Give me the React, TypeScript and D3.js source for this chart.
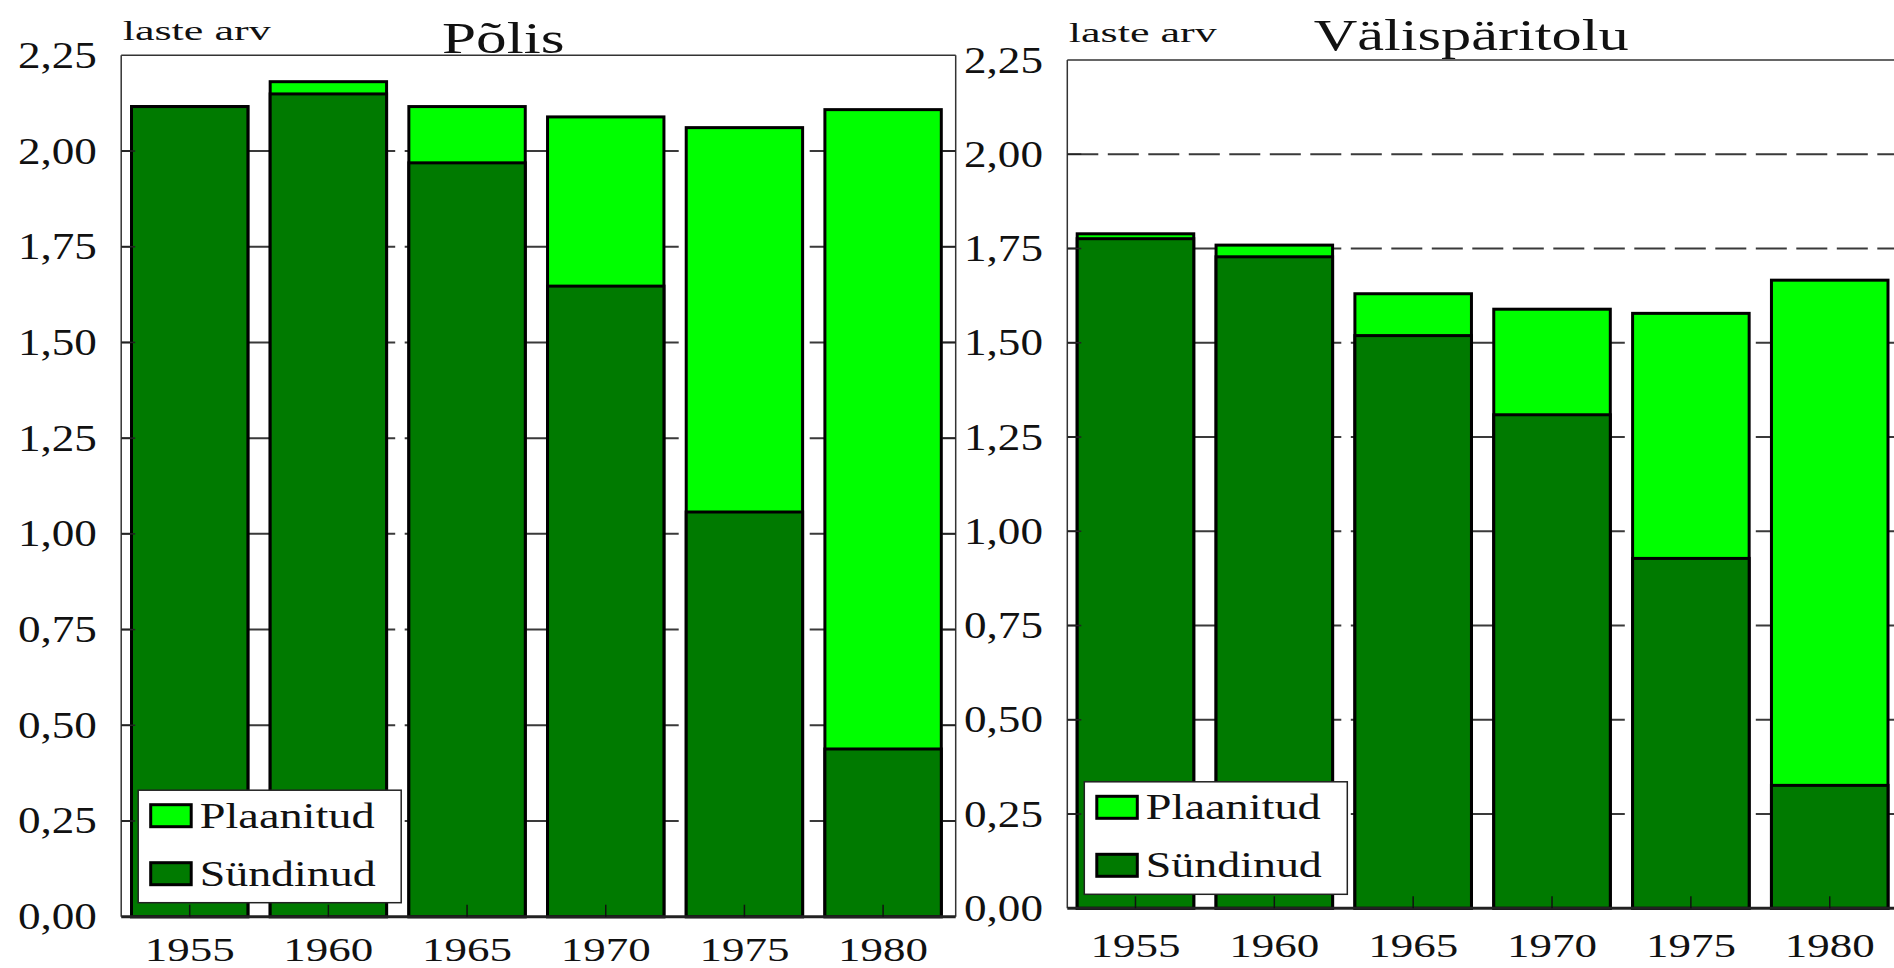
import React from 'react';
import * as d3 from 'd3';

// ---- data ----
const years = ['1955', '1960', '1965', '1970', '1975', '1980'];
const yTicks = [0, 0.25, 0.5, 0.75, 1.0, 1.25, 1.5, 1.75, 2.0, 2.25];
const polisPlanned = [2.12, 2.185, 2.12, 2.093, 2.065, 2.112];
const polisBorn = [2.12, 2.153, 1.973, 1.651, 1.061, 0.442];
const valisPlanned = [1.793, 1.763, 1.634, 1.593, 1.582, 1.67];
const valisBorn = [1.78, 1.732, 1.523, 1.313, 0.932, 0.33];
const legendLabels = ['Plaanitud', 'Sündinud'];
const yLabel = 'laste arv';

const DARK = '#007a00';
const LIGHT = '#00ff00';
const FONT = "'Times New Roman', Times, 'Liberation Serif', serif";

const fmt = (v: number) => v.toFixed(2).replace('.', ',');

type PanelCfg = {
  title: string;
  planned: number[];
  born: number[];
  left: number;
  right: number;
  top: number;
  bottom: number;
  bandL: number;
  bandR: number;
  showRightAxis: boolean;
  titleX: number;
  titleY: number;
  titleW: number;
  labY: number;
  yearY: number;
};

const panels: PanelCfg[] = [
  {
    title: 'Põlis', planned: polisPlanned, born: polisBorn,
    left: 121.2, right: 955.7, top: 55.3, bottom: 916.7, bandL: 130, bandR: 942.8,
    showRightAxis: true, titleX: 442, titleY: 53.3, titleW: 122.5, labY: 39.5, yearY: 961,
  },
  {
    title: 'Välispäritolu', planned: valisPlanned, born: valisBorn,
    left: 1067.3, right: 1898, top: 60, bottom: 908.3, bandL: 1075.7, bandR: 1889.5,
    showRightAxis: false, titleX: 1313.7, titleY: 50, titleW: 315, labY: 41.7, yearY: 956.7,
  },
];

const txt = { fontFamily: FONT } as React.CSSProperties;

function Panel({ p }: { p: PanelCfg }) {
  const x = d3.scaleBand<string>().domain(years).range([p.bandL, p.bandR]).paddingInner(0.139).paddingOuter(0);
  const y = d3.scaleLinear().domain([0, 2.25]).range([p.bottom, p.top]);
  const bw = x.bandwidth();
  const gridTicks = yTicks.filter((t) => t > 0 && t < 2.25);
  return (
    <g>
      {gridTicks.map((t) => (
        <line key={'g' + t} x1={p.left} x2={p.right} y1={y(t)} y2={y(t)} stroke="#3a3a3a" strokeWidth={2} strokeDasharray="31 9.5" />
      ))}
      {years.map((yr, i) => (
        <g key={yr}>
          <rect x={x(yr)! + 1.5} width={bw - 3} y={y(p.planned[i]) + 1.5} height={y(0) - y(p.planned[i]) - 1.5} fill={LIGHT} stroke="#000" strokeWidth={3} />
          <rect x={x(yr)! + 1.5} width={bw - 3} y={y(p.born[i]) + 1.5} height={y(0) - y(p.born[i]) - 1.5} fill={DARK} stroke="#000" strokeWidth={3} />
        </g>
      ))}
      <line x1={p.left} x2={p.left} y1={p.top} y2={p.bottom} stroke="#333" strokeWidth={1.5} />
      <line x1={p.left} x2={p.right} y1={p.top} y2={p.top} stroke="#333" strokeWidth={1.5} />
      {p.showRightAxis && <line x1={p.right} x2={p.right} y1={p.top} y2={p.bottom} stroke="#333" strokeWidth={1.5} />}
      <line x1={p.left} x2={p.right} y1={p.bottom} y2={p.bottom} stroke="#222" strokeWidth={3} />
      {gridTicks.map((t) => (
        <g key={'t' + t}>
          <line x1={p.left} x2={p.left + 14} y1={y(t)} y2={y(t)} stroke="#222" strokeWidth={1.5} />
          {p.showRightAxis && <line x1={p.right - 13} x2={p.right} y1={y(t)} y2={y(t)} stroke="#222" strokeWidth={1.5} />}
        </g>
      ))}
      {yTicks.map((t) => (
        <text key={'l' + t} x={p.left - 103.3} y={y(t) + 12.5} fontSize={37} style={txt} fill="#111" textLength={79} lengthAdjust="spacingAndGlyphs">
          {fmt(t)}
        </text>
      ))}
      {years.map((yr) => {
        const cx = x(yr)! + bw / 2;
        return (
          <g key={'x' + yr}>
            <line x1={cx} x2={cx} y1={p.bottom} y2={p.bottom - 12} stroke="#111" strokeWidth={1.5} />
            <text x={cx - 45} y={p.yearY} fontSize={33} style={txt} fill="#111" textLength={90} lengthAdjust="spacingAndGlyphs">
              {yr}
            </text>
          </g>
        );
      })}
      <text x={p.left + 1.5} y={p.labY} fontSize={28} style={txt} fill="#111" textLength={148} lengthAdjust="spacingAndGlyphs">{yLabel}</text>
      <text x={p.titleX} y={p.titleY} fontSize={45} style={txt} fill="#111" textLength={p.titleW} lengthAdjust="spacingAndGlyphs">{p.title}</text>
      <g>
        <rect x={p.left + 17} y={p.bottom - 126.5} width={263} height={112.5} fill="#fff" stroke="#222" strokeWidth={1.5} />
        {legendLabels.map((lab, i) => {
          const sy = p.bottom - 112 + i * 58;
          return (
            <g key={lab}>
              <rect x={p.left + 29.5} y={sy} width={40.5} height={22} fill={i === 0 ? LIGHT : DARK} stroke="#000" strokeWidth={3} />
              <text x={p.left + 78.5} y={sy + 23} fontSize={35} style={txt} fill="#111" textLength={i === 0 ? 175 : 176} lengthAdjust="spacingAndGlyphs">
                {lab}
              </text>
            </g>
          );
        })}
      </g>
    </g>
  );
}

export default function App() {
  return (
    <svg width={1894} height={968} style={{ position: 'absolute', left: 0, top: 0, background: '#fff' }}>
      <rect x={0} y={0} width={1894} height={968} fill="#fff" />
      {panels.map((p) => (
        <Panel key={p.title} p={p} />
      ))}
    </svg>
  );
}
